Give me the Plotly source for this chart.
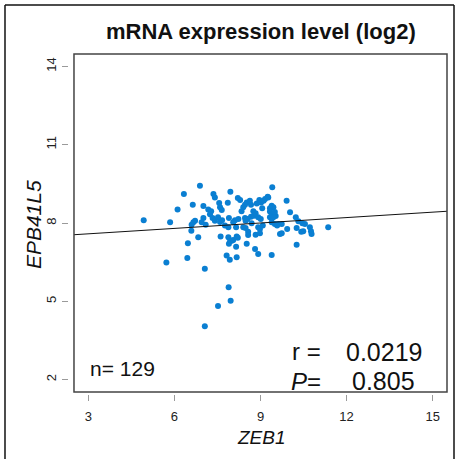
import plotly.graph_objects as go

# ---- data ----
zeb1 = [4.93, 5.72, 5.85, 6.11, 6.33, 6.45, 6.47, 6.59, 6.64, 6.66,
        6.60, 6.72, 6.83, 6.89, 7.01, 7.01, 7.09, 7.06, 7.06, 7.18,
        7.28, 7.24, 7.36, 7.41, 7.33, 7.41, 7.52, 7.59, 7.65, 7.59,
        7.66, 7.52, 7.61, 7.82, 7.89, 7.96, 7.93, 8.17, 7.88, 7.88,
        7.94, 8.05, 8.17, 8.21, 8.15, 7.95, 8.21, 8.29, 7.86, 7.90,
        8.11, 8.05, 8.23, 8.15, 8.40, 7.76, 8.52, 8.63, 8.67, 8.46,
        8.40, 8.34, 8.75, 8.83, 8.78, 8.67, 8.87, 8.96, 9.02, 9.16,
        9.25, 9.41, 9.91, 9.39, 9.45, 9.33, 9.06, 9.33, 9.44, 9.53,
        9.39, 9.33, 9.45, 10.03, 8.46, 8.48, 8.55, 8.92, 9.01, 9.39,
        9.50, 9.62, 9.74, 10.23, 10.32, 10.46, 10.55, 10.72, 10.76, 10.78,
        11.36, 8.69, 8.92, 8.98, 8.57, 8.48, 9.93, 10.26, 10.49, 9.68,
        9.74, 8.00, 7.90, 8.57, 8.83, 8.98, 10.26, 8.52, 8.81, 8.92,
        9.39, 9.58, 9.08, 9.11, 9.27, 9.50, 10.42, 7.56, 6.95]
epb41l5 = [8.11, 6.49, 8.03, 8.52, 9.11, 6.66, 7.22, 7.70, 8.70, 8.03,
           7.93, 8.09, 7.45, 9.43, 8.65, 8.19, 7.93, 6.25, 4.04, 8.52,
           8.45, 8.34, 9.11, 8.98, 8.19, 8.09, 8.22, 8.60, 8.50, 8.04,
           8.11, 4.82, 7.48, 6.75, 5.54, 5.02, 6.59, 6.69, 7.84, 7.45,
           7.30, 7.35, 7.48, 7.43, 7.09, 9.20, 8.96, 8.88, 8.78, 8.19,
           8.11, 8.03, 8.15, 7.84, 7.84, 7.90, 8.79, 8.85, 8.70, 8.70,
           8.60, 8.45, 8.45, 8.37, 8.28, 8.24, 8.75, 8.88, 8.79, 8.92,
           9.01, 9.37, 8.85, 8.66, 8.60, 8.57, 8.57, 8.44, 8.36, 8.27,
           8.27, 8.22, 8.22, 8.41, 8.19, 8.09, 8.15, 8.22, 8.15, 8.03,
           7.96, 7.96, 7.96, 8.22, 8.07, 7.99, 7.96, 7.84, 7.68, 7.58,
           7.84, 7.99, 7.84, 7.77, 7.66, 7.81, 7.77, 7.81, 7.68, 7.58,
           7.61, 7.32, 7.20, 7.54, 7.55, 7.61, 7.17, 7.20, 7.00, 6.81,
           6.77, 7.90, 7.90, 8.85, 8.98, 8.42, 7.66, 8.77, 8.03]

fit_x = [2.5, 15.5]
fit_y = [7.55, 8.45]

x_ticks = [3, 6, 9, 12, 15]
y_ticks = [2, 5, 8, 11, 14]

title_text = "mRNA expression level (log2)"
x_label = "ZEB1"
y_label = "EPB41L5"
n_text = "n= 129"
r_value = "0.0219"
p_value = "0.805"

FONT = "Liberation Sans, Arial, sans-serif"

fig = go.Figure()
fig.add_trace(go.Scatter(
    x=zeb1, y=epb41l5, mode="markers",
    marker=dict(size=6, color="#0a7fd2", line=dict(width=0)),
    hoverinfo="skip", showlegend=False))
fig.add_trace(go.Scatter(
    x=fit_x, y=fit_y, mode="lines",
    line=dict(color="#111111", width=1),
    hoverinfo="skip", showlegend=False))

fig.update_layout(
    width=456, height=459,
    margin=dict(l=40, r=9, t=54, b=40),
    paper_bgcolor="white", plot_bgcolor="white",
    font=dict(family=FONT, color="#222222"),
    xaxis=dict(domain=[0.0835, 1.0], range=[2.5, 15.5], anchor="free",
               position=0.0685, tickmode="array", tickvals=x_ticks,
               ticks="outside", ticklen=6, tickcolor="#9a9a9a", tickwidth=1,
               showline=False, showgrid=False, zeroline=False,
               tickfont=dict(size=13, family=FONT, color="#222"),
               ticklabelstandoff=4),
    yaxis=dict(domain=[0.074, 1.0], range=[1.52, 14.48], anchor="free",
               position=0.0676, tickmode="array", tickvals=y_ticks,
               ticks="outside", ticklen=6, tickcolor="#9a9a9a", tickwidth=1,
               showline=False, showgrid=False, zeroline=False,
               tickangle=-90,
               tickfont=dict(size=13, family=FONT, color="#222")),
)

# plot box
fig.add_shape(type="rect", xref="x domain", yref="y domain",
              x0=0, x1=1, y0=0, y1=1,
              line=dict(color="#444444", width=1.5), layer="above")
# outer frame
frame = dict(color="#111111", width=1.5)
fig.add_shape(type="line", xref="paper", yref="paper",
              x0=-0.086, x1=-0.086, y0=-0.2, y1=1.134, line=frame)
fig.add_shape(type="line", xref="paper", yref="paper",
              x0=-0.086, x1=1.0172, y0=1.134, y1=1.134, line=frame)
fig.add_shape(type="line", xref="paper", yref="paper",
              x0=1.0172, x1=1.0172, y0=-0.2, y1=1.134, line=frame)

ann = []
ann.append(dict(text="<b>" + title_text + "</b>", x=0.5418, y=1.0616,
                font=dict(size=22, color="#111")))
ann.append(dict(text="<i>" + y_label + "</i>", x=-0.0172, y=0.534,
                textangle=-90, font=dict(size=21, color="#111")))
ann.append(dict(text="<i>" + x_label + "</i>", x=0.543, y=-0.05,
                font=dict(size=19, color="#111")))
ann.append(dict(text=n_text, x=0.118, y=0.138, xanchor="left",
                font=dict(size=21, color="#111")))
ann.append(dict(text="r =", x=0.6953, y=0.184, xanchor="right",
                font=dict(size=24, color="#111")))
ann.append(dict(text="<i>P</i>=", x=0.6953, y=0.104, xanchor="right",
                font=dict(size=24, color="#111")))
ann.append(dict(text=r_value, x=0.845, y=0.184,
                font=dict(size=25, color="#111")))
ann.append(dict(text=p_value, x=0.844, y=0.104,
                font=dict(size=25, color="#111")))
for a in ann:
    a.setdefault("xanchor", "center")
    a.setdefault("yanchor", "middle")
    a["xref"] = "paper"
    a["yref"] = "paper"
    a["showarrow"] = False
    a["font"]["family"] = FONT
fig.update_layout(annotations=ann)

fig.write_html("out.html")
